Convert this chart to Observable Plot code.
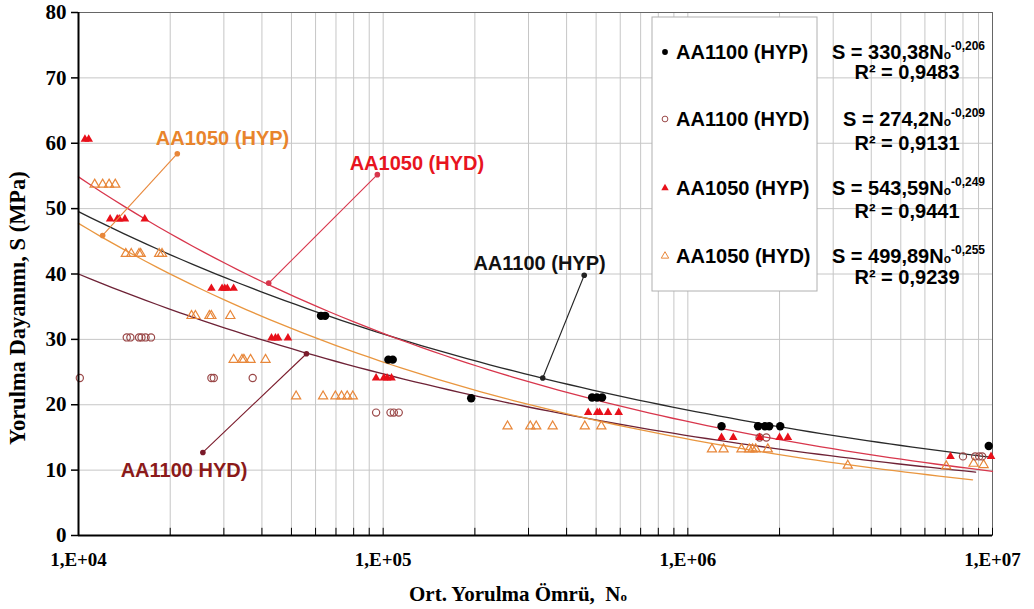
<!DOCTYPE html>
<html><head><meta charset="utf-8">
<script src="https://cdn.jsdelivr.net/npm/d3@7"></script>
<script src="https://cdn.jsdelivr.net/npm/@observablehq/plot@0.6"></script>
<style>body{margin:0;background:#fff}</style>
</head><body><div id="chart"></div>
<script>
// ---- series meta ----
const series = ["AA1100 (HYP)", "AA1100 (HYD)", "AA1050 (HYP)", "AA1050 (HYD)"];
const fitA = [330.38, 274.2, 543.59, 499.89];
const fitB = [-0.206, -0.209, -0.249, -0.255];
const eqCoef = ["330,38", "274,2", "543,59", "499,89"];
const eqExp = ["-0,206", "-0,209", "-0,249", "-0,255"];
const eqR2 = ["0,9483", "0,9131", "0,9441", "0,9239"];
const fitStart = [1e4, 1e4, 1e4, 1e4];
const fitEnd = [1e7, 8.8e6, 1e7, 8.6e6];

// ---- data points ----
const aa1100hypN = [6.25e4, 6.45e4, 1.04e5, 1.075e5, 1.945e5, 4.85e5, 5.03e5, 5.23e5, 1.29e6, 1.70e6, 1.79e6, 1.85e6, 2.01e6, 9.72e6];
const aa1100hypS = [33.6, 33.6, 26.9, 26.9, 21.0, 21.1, 21.1, 21.1, 16.7, 16.7, 16.7, 16.7, 16.7, 13.7];

const aa1100hydN = [1.01e4, 1.44e4, 1.48e4, 1.58e4, 1.61e4, 1.66e4, 1.73e4, 2.73e4, 2.78e4, 3.73e4, 9.48e4, 1.057e5, 1.084e5, 1.125e5, 1.72e6, 1.81e6, 8.0e6, 8.77e6, 9.04e6, 9.25e6];
const aa1100hydS = [24.1, 30.3, 30.3, 30.3, 30.3, 30.3, 30.3, 24.1, 24.1, 24.1, 18.8, 18.8, 18.8, 18.8, 15.0, 15.0, 12.1, 12.1, 12.1, 12.1];

const aa1050hypN = [1.05e4, 1.08e4, 1.27e4, 1.34e4, 1.36e4, 1.42e4, 1.65e4, 2.73e4, 2.96e4, 3.02e4, 3.08e4, 3.23e4, 4.30e4, 4.43e4, 4.52e4, 4.87e4, 9.48e4, 1.005e5, 1.03e5, 1.065e5, 4.71e5, 5.04e5, 5.13e5, 5.47e5, 5.93e5, 1.29e6, 1.41e6, 1.72e6, 2.0e6, 2.13e6, 7.28e6, 9.89e6];
const aa1050hypS = [60.6, 60.6, 48.4, 48.4, 48.4, 48.4, 48.4, 37.8, 37.8, 37.8, 37.8, 37.8, 30.2, 30.2, 30.2, 30.2, 24.1, 24.1, 24.1, 24.1, 18.8, 18.8, 18.8, 18.8, 18.8, 15.0, 15.0, 15.0, 15.0, 15.0, 12.1, 12.1];

const aa1050hydN = [1.13e4, 1.20e4, 1.26e4, 1.32e4, 1.43e4, 1.49e4, 1.58e4, 1.60e4, 1.84e4, 1.88e4, 2.35e4, 2.42e4, 2.69e4, 2.73e4, 3.15e4, 3.23e4, 3.44e4, 3.49e4, 3.67e4, 4.11e4, 5.18e4, 6.35e4, 6.97e4, 7.30e4, 7.62e4, 7.95e4, 2.56e5, 3.04e5, 3.18e5, 3.60e5, 4.59e5, 5.2e5, 1.20e6, 1.31e6, 1.50e6, 1.59e6, 1.63e6, 1.67e6, 1.83e6, 3.35e6, 7.05e6, 8.67e6, 9.35e6];
const aa1050hydS = [53.7, 53.7, 53.7, 53.7, 43.1, 43.1, 43.1, 43.1, 43.1, 43.1, 33.6, 33.6, 33.6, 33.6, 33.6, 26.9, 26.9, 26.9, 26.9, 26.9, 21.3, 21.3, 21.3, 21.3, 21.3, 21.3, 16.7, 16.7, 16.7, 16.7, 16.7, 16.7, 13.2, 13.2, 13.2, 13.2, 13.2, 13.2, 13.2, 10.7, 10.6, 11.0, 10.8];

// ---- annotations ----
const noteText = ["AA1050 (HYP)", "AA1050 (HYD)", "AA1100 (HYP)", "AA1100 HYD)"];
const noteN = [2.97e4, 1.29e5, 3.26e5, 2.22e4];
const noteS = [60.7, 56.9, 41.6, 9.9];
const leadN1 = [1.20e4, 4.21e4, 3.34e5, 5.6e4];
const leadS1 = [45.9, 38.6, 24.1, 27.8];
const leadN2 = [2.11e4, 9.57e4, 4.57e5, 2.56e4];
const leadS2 = [58.4, 55.2, 39.8, 12.7];

// ---- axes ticks ----
const yTicks = [0, 10, 20, 30, 40, 50, 60, 70, 80];
const xMajor = [1e4, 1e5, 1e6, 1e7];
const xMinor = [2e4,3e4,4e4,5e4,6e4,7e4,8e4,9e4,2e5,3e5,4e5,5e5,6e5,7e5,8e5,9e5,2e6,3e6,4e6,5e6,6e6,7e6,8e6,9e6];

// ---- styles ----
const lineColor = ["#2a2a2a", "#6e2236", "#d8364c", "#e9963f"];
const noteColor = ["#e8842c", "#e8141e", "#111111", "#8b1a1a"];
const leadColor = ["#e8873a", "#d8364c", "#222222", "#7a1a2a"];

const fits = [];
series.forEach((s, i) => {
  const n = 80, l0 = Math.log10(fitStart[i]), l1 = Math.log10(fitEnd[i]);
  for (let k = 0; k <= n; k++) {
    const N = Math.pow(10, l0 + (l1 - l0) * k / n);
    fits.push({series: s, N, S: fitA[i] * Math.pow(N, fitB[i])});
  }
});
const pts = (Ns, Ss) => Ns.map((N, i) => ({N, S: Ss[i]}));
const notes = noteText.map((t, i) => ({t, N: noteN[i], S: noteS[i], c: noteColor[i]}));
const leads = noteText.map((t, i) => ({N1: leadN1[i], S1: leadS1[i], N2: leadN2[i], S2: leadS2[i], c: leadColor[i]}));
const leadEnds = leads.flatMap(d => [{N: d.N1, S: d.S1, c: d.c}, {N: d.N2, S: d.S2, c: d.c}]);

const serif = "'Liberation Serif', 'Times New Roman', serif";
const sans = "'Liberation Sans', Arial, sans-serif";

const chart = Plot.plot({
  width: 1034, height: 609,
  marginLeft: 78, marginRight: 42, marginTop: 12, marginBottom: 74,
  style: {background: "#fff", overflow: "visible"},
  x: {type: "log", domain: [1e4, 1e7]},
  y: {domain: [0, 80]},
  color: {domain: series, range: lineColor},
  marks: [
    Plot.ruleX(xMinor.concat(xMajor), {stroke: "#c6c6c6", strokeWidth: 1}),
    Plot.ruleY(yTicks, {stroke: "#c6c6c6", strokeWidth: 1}),
    Plot.frame({stroke: "#666", strokeWidth: 1}),
    Plot.line(fits, {x: "N", y: "S", z: "series", stroke: "series", strokeWidth: 1.3}),
    Plot.dot(pts(aa1050hydN, aa1050hydS), {x: "N", y: "S", symbol: "triangle", r: 3.4, stroke: "#e8873a", strokeWidth: 1.2, fill: "none"}),
    Plot.dot(pts(aa1100hydN, aa1100hydS), {x: "N", y: "S", symbol: "circle", r: 3.6, stroke: "#9a4848", strokeWidth: 1.2, fill: "none"}),
    Plot.dot(pts(aa1050hypN, aa1050hypS), {x: "N", y: "S", symbol: "triangle", r: 3.2, fill: "#e8101a", stroke: "none"}),
    Plot.dot(pts(aa1100hypN, aa1100hypS), {x: "N", y: "S", symbol: "circle", r: 4.2, fill: "#000"}),
    Plot.link(leads, {x1: "N1", y1: "S1", x2: "N2", y2: "S2", stroke: "c", strokeWidth: 1.1}),
    Plot.dot(leadEnds, {x: "N", y: "S", r: 2.8, fill: "c", stroke: "none"}),
    Plot.text(notes, {x: "N", y: "S", text: "t", fill: "c", fontSize: 20, fontWeight: "bold", fontFamily: sans}),
    Plot.ruleX(xMinor.concat(xMajor), {y1: 0, y2: 1.1, stroke: "#000", strokeWidth: 1}),
    Plot.ruleY([0], {stroke: "#000", strokeWidth: 2}),
    Plot.ruleX([1e4], {stroke: "#000", strokeWidth: 2}),
    Plot.axisY({ticks: yTicks, tickSize: 7, tickPadding: 5, label: null, fontSize: 21, fontWeight: "bold", fontFamily: serif, color: "#000", strokeWidth: 1.5}),
    Plot.axisX({ticks: xMajor, tickSize: 0, tickPadding: 17, label: null, fontSize: 19, fontWeight: "bold", fontFamily: serif, color: "#000",
      tickFormat: d => "1,E+0" + Math.round(Math.log10(d))})
  ]
});
document.getElementById("chart").appendChild(chart);

// ---- titles, legend and equations ----
const svg = d3.select(chart);
const xt = svg.append("text").attr("x", 518).attr("y", 601).attr("text-anchor", "middle")
  .attr("font-family", serif).attr("font-weight", "bold").attr("font-size", 21).attr("fill", "#000");
xt.append("tspan").text("Ort. Yorulma Ömrü,  N");
xt.append("tspan").attr("font-size", 13).text("o");

svg.append("text").attr("transform", "translate(25,308) rotate(-90)").attr("text-anchor", "middle")
  .attr("font-family", serif).attr("font-weight", "bold").attr("font-size", 22.5).attr("fill", "#000")
  .text("Yorulma Dayanımı, S (MPa)");

const lg = svg.append("g").attr("font-family", sans).attr("font-weight", "bold").attr("font-size", 20).attr("fill", "#000");
lg.append("rect").attr("x", 652).attr("y", 17).attr("width", 165).attr("height", 274).attr("fill", "#fff").attr("stroke", "#b0b0b0");
const rowY = [52, 119, 188, 256];
const eqY = [59, 126, 195, 263];
const r2Y = [79, 150, 218, 284];
const symType = [d3.symbolCircle, d3.symbolCircle, d3.symbolTriangle, d3.symbolTriangle];
const symFill = ["#000", "none", "#e8101a", "none"];
const symStroke = ["none", "#9a4848", "none", "#e8873a"];
series.forEach((s, i) => {
  lg.append("path").attr("d", d3.symbol(symType[i], i < 2 ? 26 : 24)())
    .attr("transform", `translate(665,${rowY[i]})`)
    .attr("fill", symFill[i]).attr("stroke", symStroke[i]).attr("stroke-width", 1);
  lg.append("text").attr("x", 676).attr("y", rowY[i] + 7).attr("text-anchor", "start").text(s);
  const eq = lg.append("text").attr("x", 985).attr("y", eqY[i]).attr("text-anchor", "end");
  eq.append("tspan").text("S = " + eqCoef[i] + "N");
  eq.append("tspan").attr("font-size", 12).text("o");
  eq.append("tspan").attr("font-size", 12).attr("dy", -9).text(eqExp[i]);
  const r = lg.append("text").attr("x", 907).attr("y", r2Y[i]).attr("text-anchor", "middle");
  r.append("tspan").text("R² = " + eqR2[i]);
});
</script>
</body></html>
